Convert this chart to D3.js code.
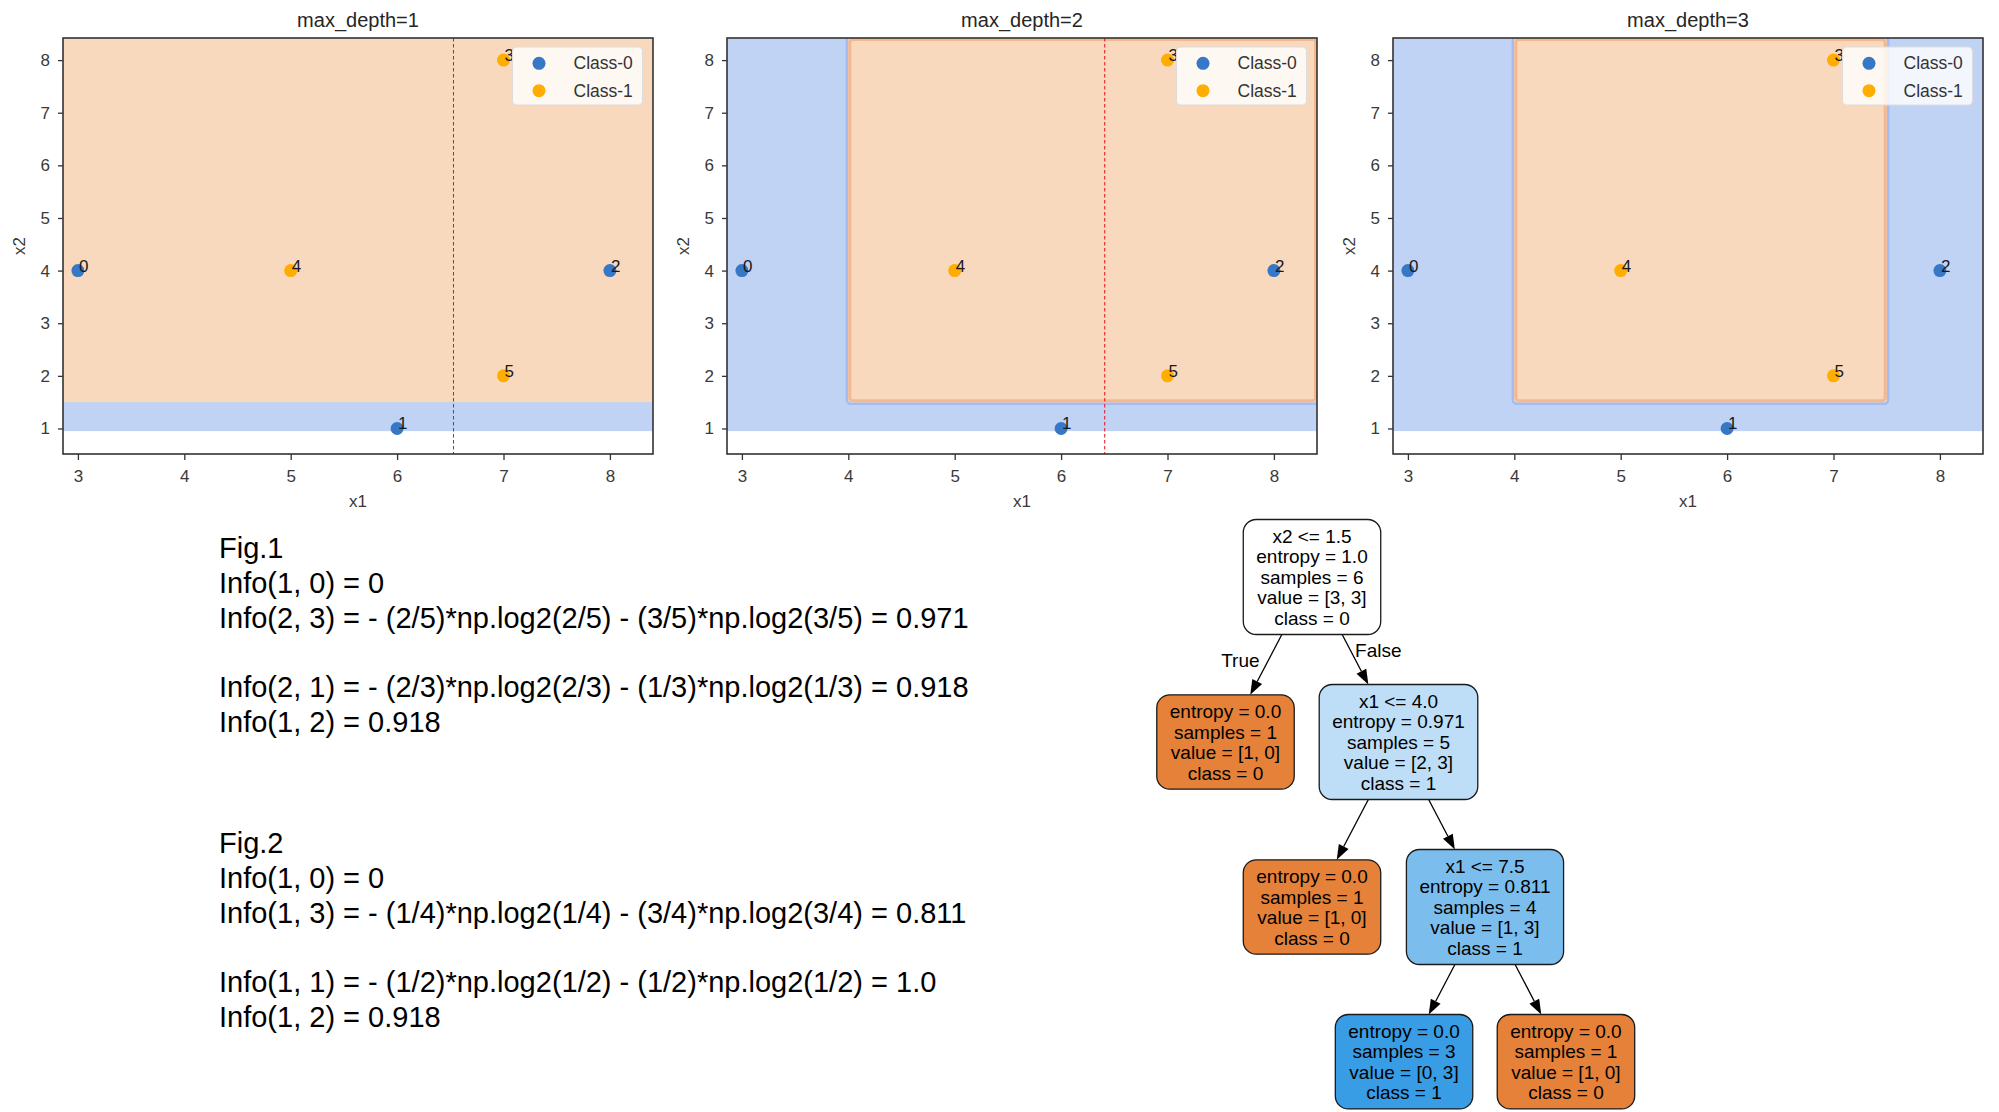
<!DOCTYPE html>
<html><head><meta charset="utf-8">
<script src="https://cdn.jsdelivr.net/npm/d3@7"></script>
<style>
body{margin:0;background:#fff;}
svg{display:block;}
text{font-family:"Liberation Sans",Arial,Helvetica,sans-serif;}
</style>
</head><body>
<svg id="c" width="1999" height="1112"></svg>
<script>
// ---------------- data ----------------
const pointX1 = [3, 6, 8, 7, 5, 7];
const pointX2 = [4, 1, 4, 8, 4, 2];
const pointClass = [0, 0, 0, 1, 1, 1];
const classNames = ["Class-0", "Class-1"];
const panelTitles = ["max_depth=1", "max_depth=2", "max_depth=3"];
const xTicks = [3, 4, 5, 6, 7, 8];
const yTicks = [1, 2, 3, 4, 5, 6, 7, 8];
const xDomain = [2.86, 8.405];
const yDomain = [0.515, 8.42];
const meshX = [2.86, 8.405];
const meshY = [0.95, 8.42];
// class-1 decision region for each depth (data units)
const orangeX = [[2.86, 8.405], [4.0, 8.405], [4.0, 7.5]];
const orangeY = [[1.5, 8.42], [1.5, 8.42], [1.5, 8.42]];
const splitLines = [6.53, 6.41, null];

const fig1Lines = [
  "Fig.1",
  "Info(1, 0) = 0",
  "Info(2, 3) = - (2/5)*np.log2(2/5) - (3/5)*np.log2(3/5) = 0.971",
  "",
  "Info(2, 1) = - (2/3)*np.log2(2/3) - (1/3)*np.log2(1/3) = 0.918",
  "Info(1, 2) = 0.918"
];
const fig2Lines = [
  "Fig.2",
  "Info(1, 0) = 0",
  "Info(1, 3) = - (1/4)*np.log2(1/4) - (3/4)*np.log2(3/4) = 0.811",
  "",
  "Info(1, 1) = - (1/2)*np.log2(1/2) - (1/2)*np.log2(1/2) = 1.0",
  "Info(1, 2) = 0.918"
];

const treeLabels = [
  ["x2 <= 1.5", "entropy = 1.0", "samples = 6", "value = [3, 3]", "class = 0"],
  ["entropy = 0.0", "samples = 1", "value = [1, 0]", "class = 0"],
  ["x1 <= 4.0", "entropy = 0.971", "samples = 5", "value = [2, 3]", "class = 1"],
  ["entropy = 0.0", "samples = 1", "value = [1, 0]", "class = 0"],
  ["x1 <= 7.5", "entropy = 0.811", "samples = 4", "value = [1, 3]", "class = 1"],
  ["entropy = 0.0", "samples = 3", "value = [0, 3]", "class = 1"],
  ["entropy = 0.0", "samples = 1", "value = [1, 0]", "class = 0"]
];
const treeParents = [null, 0, 0, 2, 2, 4, 4];
const treeValues = [[3, 3], [1, 0], [2, 3], [1, 0], [1, 3], [0, 3], [1, 0]];
const edgeLabels = ["True", "False"];

// ---------------- style ----------------
const svg = d3.select("#c");
const panelLefts = [63, 727, 1393];
const PT = 38, PW = 590, PH = 416;
const blueFill = "#c0d3f5", orangeFill = "#f8d9bd";
const ptColors = ["#3677c6", "#ffad00"];
const textDark = "#262626";

panelTitles.forEach((title, i) => {
  const g = svg.append("g").attr("transform", `translate(${panelLefts[i]},${PT})`);
  const x = d3.scaleLinear().domain(xDomain).range([0, PW]);
  const y = d3.scaleLinear().domain(yDomain).range([PH, 0]);
  const clipId = "clip" + i;
  g.append("clipPath").attr("id", clipId).append("rect")
    .attr("x", 0).attr("y", 0).attr("width", PW).attr("height", PH);
  const plot = g.append("g").attr("clip-path", `url(#${clipId})`);

  // mesh background (class 0)
  plot.append("rect")
    .attr("x", x(meshX[0])).attr("y", y(meshY[1]))
    .attr("width", x(meshX[1]) - x(meshX[0]))
    .attr("height", y(meshY[0]) - y(meshY[1]))
    .attr("fill", blueFill);

  // class-1 region
  const ox0 = x(orangeX[i][0]), ox1 = x(orangeX[i][1]);
  const oy0 = y(orangeY[i][1]), oy1 = y(orangeY[i][0]);
  if (i === 0) {
    plot.append("rect").attr("x", ox0).attr("y", oy0)
      .attr("width", ox1 - ox0).attr("height", oy1 - oy0).attr("fill", orangeFill);
  } else {
    plot.append("rect").attr("x", ox0 - 1.5).attr("y", oy0 - 1.5)
      .attr("width", ox1 - ox0 + 3).attr("height", oy1 - oy0 + 3)
      .attr("rx", 4).attr("fill", "none").attr("stroke", "#a4bcef").attr("stroke-width", 2.5);
    plot.append("rect").attr("x", ox0).attr("y", oy0)
      .attr("width", ox1 - ox0).attr("height", oy1 - oy0)
      .attr("rx", 3).attr("fill", orangeFill);
    plot.append("rect").attr("x", ox0 + 1.5).attr("y", oy0 + 1.5)
      .attr("width", ox1 - ox0 - 3).attr("height", oy1 - oy0 - 3)
      .attr("rx", 3).attr("fill", "none").attr("stroke", "#f3b88e").attr("stroke-width", 3);
  }

  // split line
  if (splitLines[i] !== null) {
    plot.append("line").attr("x1", x(splitLines[i])).attr("x2", x(splitLines[i]))
      .attr("y1", 0).attr("y2", PH)
      .attr("stroke", "#e0141e").attr("stroke-width", 1).attr("stroke-dasharray", "3.5,2.5");
  }

  // points
  pointX1.forEach((v, k) => {
    plot.append("circle").attr("cx", x(v)).attr("cy", y(pointX2[k])).attr("r", 6.5)
      .attr("fill", ptColors[pointClass[k]]);
  });
  pointX1.forEach((v, k) => {
    plot.append("text").attr("x", x(v) + 1).attr("y", y(pointX2[k]) + 1)
      .attr("font-size", 17).attr("fill", "#1a1a1a").text(String(k));
  });

  // axes
  const ax = g.append("g").attr("transform", `translate(0,${PH})`)
    .call(d3.axisBottom(x).tickValues(xTicks).tickSize(6).tickPadding(10).tickFormat(d3.format("d")));
  const ay = g.append("g")
    .call(d3.axisLeft(y).tickValues(yTicks).tickSize(5).tickPadding(8).tickFormat(d3.format("d")));
  [ax, ay].forEach(a => {
    a.select(".domain").remove();
    a.selectAll("line").attr("stroke", "#333").attr("stroke-width", 1.3);
    a.selectAll("text").attr("font-size", 17).attr("fill", "#3a3a3a")
      .attr("font-family", '"Liberation Sans",Arial,sans-serif');
  });

  // frame
  g.append("rect").attr("x", 0).attr("y", 0).attr("width", PW).attr("height", PH)
    .attr("fill", "none").attr("stroke", "#333").attr("stroke-width", 1.6);

  // title and labels
  g.append("text").attr("x", PW / 2).attr("y", -11).attr("text-anchor", "middle")
    .attr("font-size", 20).attr("fill", textDark).text(title);
  g.append("text").attr("x", PW / 2).attr("y", PH + 53).attr("text-anchor", "middle")
    .attr("font-size", 17).attr("fill", "#3a3a3a").text("x1");
  g.append("text").attr("transform", `translate(-38,${PH / 2}) rotate(-90)`)
    .attr("text-anchor", "middle").attr("font-size", 17).attr("fill", "#3a3a3a").text("x2");

  // legend
  const LW = 130, LH = 58;
  const lg = g.append("g").attr("transform", `translate(${PW - 10.5 - LW},9)`);
  lg.append("rect").attr("width", LW).attr("height", LH).attr("rx", 4)
    .attr("fill", "#ffffff").attr("fill-opacity", 0.8)
    .attr("stroke", "#dcdcdc").attr("stroke-width", 1);
  classNames.forEach((name, k) => {
    const ry = 16.3 + k * 27.4;
    lg.append("circle").attr("cx", 26.5).attr("cy", ry).attr("r", 6.5).attr("fill", ptColors[k]);
    lg.append("text").attr("x", 61).attr("y", ry).attr("dy", "0.35em")
      .attr("font-size", 17.5).attr("fill", "#333").text(name);
  });
});

// ---------------- text blocks ----------------
function textBlock(lines, x0, y0) {
  lines.forEach((s, k) => {
    if (!s) return;
    svg.append("text").attr("x", x0).attr("y", y0 + k * 34.8)
      .attr("font-size", 29).attr("fill", "#000").text(s);
  });
}
textBlock(fig1Lines, 219, 558);
textBlock(fig2Lines, 219, 853);

// ---------------- tree ----------------
const baseColors = [[229, 129, 57], [57, 157, 229]];
function nodeColor(v) {
  const tot = v[0] + v[1];
  const p = v.map(d => d / tot);
  const cls = p[1] > p[0] ? 1 : 0;
  const pm = p[cls], ps = p[1 - cls];
  const alpha = ps === 1 ? 0 : (pm - ps) / (1 - ps);
  const c = baseColors[cls].map(ch => Math.round(alpha * ch + (1 - alpha) * 255));
  return d3.rgb(c[0], c[1], c[2]).formatHex();
}

const rows = treeLabels.map((lines, i) => ({
  id: String(i),
  parentId: treeParents[i] === null ? null : String(treeParents[i]),
  lines, value: treeValues[i]
}));
const root = d3.stratify()(rows);
d3.tree().nodeSize([173, 1]).separation(() => 1)(root);

const TF = 19, LS = 20.6;
const meas = svg.append("text").attr("font-size", TF);
function textW(s) { meas.text(s); return meas.node().getComputedTextLength(); }
const nodes = root.descendants();
nodes.forEach(n => {
  n.w = d3.max(n.data.lines, textW) + 26;
  n.h = n.data.lines.length * LS + 12;
});
meas.remove();

const rootCX = 1312, rootCY = 577, rankGap = 50;
const depthSpread = [1, 1, 1, 0.936];
const maxDepth = d3.max(nodes, n => n.depth);
const rankH = d3.range(maxDepth + 1).map(d => d3.max(nodes.filter(n => n.depth === d), n => n.h));
const rankY = [rootCY];
for (let d = 1; d <= maxDepth; d++) rankY[d] = rankY[d - 1] + rankH[d - 1] / 2 + rankGap + rankH[d] / 2;
nodes.forEach(n => {
  n.cx = n.parent ? n.parent.cx + (n.x - n.parent.x) * depthSpread[n.depth] : rootCX + n.x;
  n.cy = rankY[n.depth];
});

const tg = svg.append("g");
// edges
root.links().forEach((l) => {
  const p = l.source, c = l.target;
  const y0 = p.cy + p.h / 2, y1 = c.cy - c.h / 2;
  const x0 = p.cx + (c.cx - p.cx) * (y0 - p.cy) / (c.cy - p.cy);
  const x1 = p.cx + (c.cx - p.cx) * (y1 - p.cy) / (c.cy - p.cy);
  const len = Math.hypot(x1 - x0, y1 - y0);
  const ux = (x1 - x0) / len, uy = (y1 - y0) / len;
  const AL = 15, AW = 5.5;
  const bx = x1 - ux * AL, by = y1 - uy * AL;
  tg.append("line").attr("x1", x0).attr("y1", y0).attr("x2", bx).attr("y2", by)
    .attr("stroke", "#000").attr("stroke-width", 1.3);
  tg.append("polygon")
    .attr("points", `${x1},${y1} ${bx - uy * AW},${by + ux * AW} ${bx + uy * AW},${by - ux * AW}`)
    .attr("fill", "#000");
  if (p.depth === 0) {
    const isLeft = c.cx < p.cx;
    const mx = (x0 + x1) / 2, my = (y0 + y1) / 2;
    tg.append("text")
      .attr("x", mx + (isLeft ? -25.7 : 23.1)).attr("y", my + (isLeft ? -4.3 : -9.2))
      .attr("dy", "0.35em").attr("text-anchor", "middle").attr("font-size", TF)
      .attr("fill", "#000").text(edgeLabels[isLeft ? 0 : 1]);
  }
});
// nodes
nodes.forEach(n => {
  const ng = tg.append("g");
  ng.append("rect").attr("x", n.cx - n.w / 2).attr("y", n.cy - n.h / 2)
    .attr("width", n.w).attr("height", n.h).attr("rx", 13)
    .attr("fill", nodeColor(n.data.value)).attr("stroke", "#1a1a1a").attr("stroke-width", 1.3);
  const L = n.data.lines.length;
  n.data.lines.forEach((s, k) => {
    ng.append("text").attr("x", n.cx).attr("y", n.cy + (k - (L - 1) / 2) * LS + 6.8)
      .attr("text-anchor", "middle").attr("font-size", TF).attr("fill", "#000").text(s);
  });
});
</script>
</body></html>
